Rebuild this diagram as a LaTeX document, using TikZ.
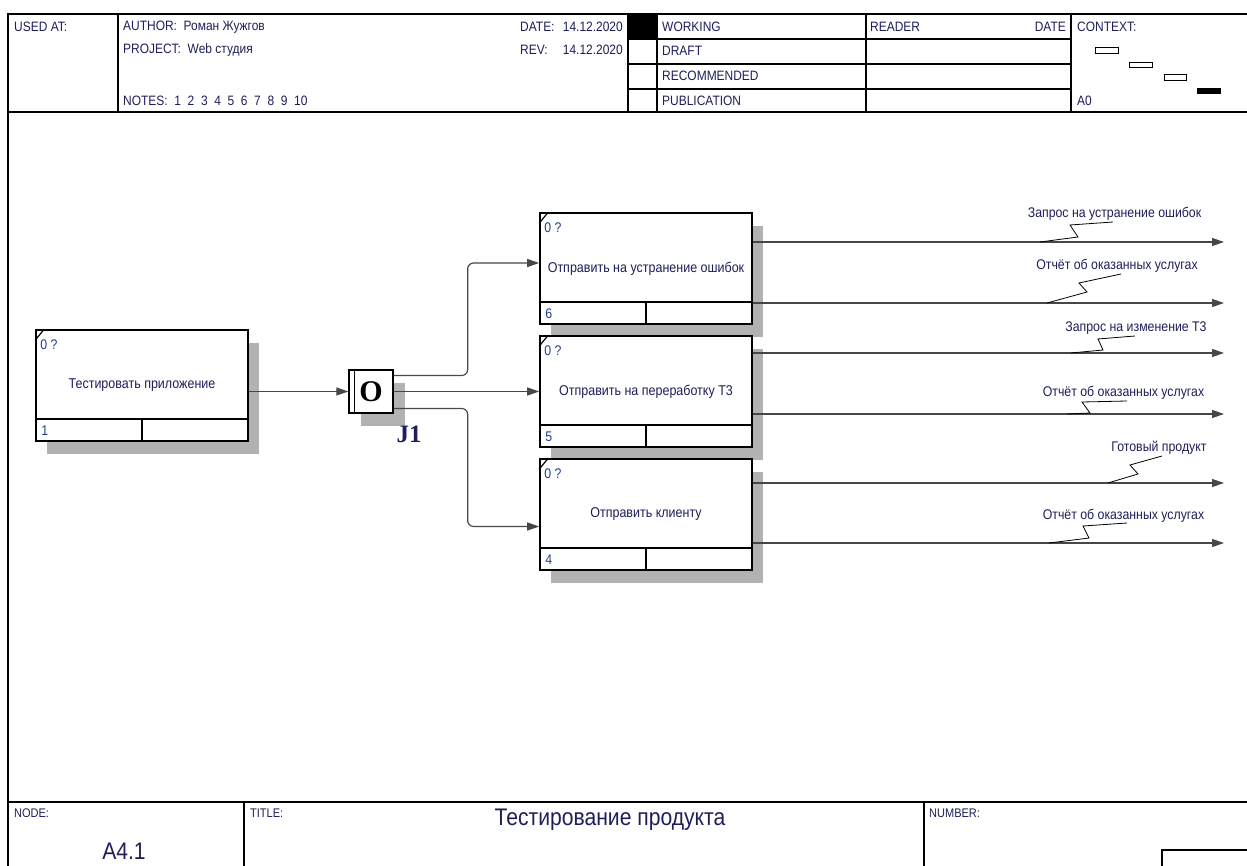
\documentclass[tikz,border=0pt]{standalone}
\usepackage{fontspec}
\setmainfont{Liberation Sans}[FakeStretch=0.88]
\newfontfamily\jfont{Liberation Serif}
\usepackage{tikz}
\usetikzlibrary{arrows.meta,positioning,calc,shadows}
\definecolor{idefnavy}{HTML}{1E1E5A}
\definecolor{idefblue}{HTML}{1F3F8F}
\definecolor{linegray}{HTML}{474747}

\begin{document}
\begin{tikzpicture}[
  x=1pt, y=-1pt,
  frame/.style={line width=1.1pt},
  txt/.style={anchor=west, inner sep=0pt, text=idefnavy, font=\fontsize{13.6}{15}\selectfont},
  func/.style={
    draw, line width=1.6pt, fill=white,
    minimum width=212pt, minimum height=111pt,
    text=idefnavy, font=\fontsize{14.2}{16}\selectfont,
    general shadow={fill=gray!60, shadow xshift=11pt, shadow yshift=-13pt}
  },
  junc/.style={
    draw, line width=1.3pt, fill=white, inner sep=0pt,
    minimum width=44pt, minimum height=43pt,
    font=\jfont\bfseries\fontsize{30}{30}\selectfont,
    general shadow={fill=gray!60, shadow xshift=12pt, shadow yshift=-13pt}
  },
  lbl/.style={inner sep=0pt, text=idefnavy, font=\fontsize{14}{16}\selectfont},
  arr/.style={-{Triangle[length=12pt,width=8pt]}, line width=1.2pt, draw=linegray},
  squig/.style={line width=0.8pt}
]
\useasboundingbox (0,0) rectangle (1247,866);

% frame
\draw[frame] (8,866) -- (8,14) -- (1247,14);
\draw[frame] (8,112) -- (1247,112);
\draw[frame] (118,14) -- (118,112);
\draw[frame] (628,14) -- (628,112);
\draw[frame] (657,14) -- (657,112);
\draw[frame] (866,14) -- (866,112);
\draw[frame] (1071,14) -- (1071,112);
\draw[frame] (628,39) -- (1071,39);
\draw[frame] (628,64) -- (1071,64);
\draw[frame] (628,89) -- (1071,89);
\fill (628,14) rectangle (657,39);

\node[txt] at (14,27) {USED AT:};
\node[txt] at (123,27) {AUTHOR:\ \ Роман Жужгов};
\node[txt] at (123,50) {PROJECT:\ \ Web студия};
\node[txt] at (123,101) {NOTES:\ \ 1\ \ 2\ \ 3\ \ 4\ \ 5\ \ 6\ \ 7\ \ 8\ \ 9\ \ 10};
\node[txt] at (520,27) {DATE:};
\node[txt, anchor=east] at (623,27) {14.12.2020};
\node[txt] at (520,50) {REV:};
\node[txt, anchor=east] at (623,50) {14.12.2020};
\node[txt] at (662,27) {WORKING};
\node[txt] at (662,51) {DRAFT};
\node[txt] at (662,76) {RECOMMENDED};
\node[txt] at (662,101) {PUBLICATION};
\node[txt] at (870,27) {READER};
\node[txt, anchor=east] at (1066,27) {DATE};
\node[txt] at (1077,27) {CONTEXT:};
\node[txt] at (1077,101) {A0};
\draw[line width=0.8pt] (1095,47) rectangle (1118,53);
\draw[line width=0.8pt] (1129,62) rectangle (1152,67);
\draw[line width=0.8pt] (1164,74) rectangle (1186,80);
\fill (1197,88) rectangle (1221,94);

\draw[frame] (8,802) -- (1247,802);
\draw[frame] (244,802) -- (244,866);
\draw[frame] (924,802) -- (924,866);
\draw[frame] (1162,866) -- (1162,850) -- (1247,850);
\node[txt, font=\fontsize{12.5}{14}\selectfont] at (14,813) {NODE:};
\node[txt, font=\fontsize{12.5}{14}\selectfont] at (250,813) {TITLE:};
\node[txt, font=\fontsize{12.5}{14}\selectfont] at (929,813) {NUMBER:};
\node[lbl, font=\fontsize{24}{26}\selectfont] (nodeid) at (124,851) {A4.1};
\node[lbl, font=\fontsize{24}{26}\selectfont] (title) at (610,820) {Тестирование продукта};

% activities
\node[func] (f1) at (142,385.5) {Тестировать приложение};
\node[func] (f6) at (646,268.5) {Отправить на устранение ошибок};
\node[func] (f5) at (646,391.5) {Отправить на переработку Т3};
\node[func] (f4) at (646,514.5) {Отправить клиенту};

\foreach \f/\n in {f1/1, f6/6, f5/5, f4/4} {
  \draw[line width=1.6pt] ([yshift=23pt]\f.south west) -- ([yshift=23pt]\f.south east);
  \draw[line width=1.6pt] ([yshift=23pt]\f.south) -- (\f.south);
  \draw[line width=1.2pt] ([yshift=-11pt]\f.north west) -- ([xshift=9pt]\f.north west);
  \node[lbl, anchor=west, text=idefblue] at ([xshift=5pt,yshift=-15pt]\f.north west) {0 ?};
  \node[lbl, anchor=west, text=idefblue] at ([xshift=6pt,yshift=11pt]\f.south west) {\n};
}

% junction
\node[junc] (j1) at (371,391.5) {O};
\draw[line width=1pt] ([xshift=6pt]j1.north west) -- ([xshift=6pt]j1.south west);
\node[lbl, font=\jfont\bfseries\fontsize{25}{27}\selectfont] (j1lbl) at (409,434) {J1};

\draw[arr] (f1.east |- j1.west) -- (j1.west);
\draw[arr, rounded corners=6pt] ([yshift=16pt]j1.east) -- ++(74,0) |- ([yshift=5.5pt]f6.west);
\draw[arr] (j1.east) -- (f5.west);
\draw[arr, rounded corners=6pt] ([yshift=-17pt]j1.east) -- ++(74,0) |- ([yshift=-12pt]f4.west);

% outputs
\coordinate (o1) at (1224,242);
\coordinate (o2) at (1224,303);
\coordinate (o3) at (1224,353);
\coordinate (o4) at (1224,414);
\coordinate (o5) at (1224,483);
\coordinate (o6) at (1224,543);
\draw[arr] (f6.east |- o1) -- (o1);
\draw[arr] (f6.east |- o2) -- (o2);
\draw[arr] (f5.east |- o3) -- (o3);
\draw[arr] (f5.east |- o4) -- (o4);
\draw[arr] (f4.east |- o5) -- (o5);
\draw[arr] (f4.east |- o6) -- (o6);

\node[lbl] (l1) at (1114.5,214) {Запрос на устранение ошибок};
\node[lbl] (l2) at (1117,266) {Отчёт об оказанных услугах};
\node[lbl] (l3) at (1136,328) {Запрос на изменение Т3};
\node[lbl] (l4) at (1123.5,393) {Отчёт об оказанных услугах};
\node[lbl] (l5) at (1159,448) {Готовый продукт};
\node[lbl] (l6) at (1123.5,516) {Отчёт об оказанных услугах};

\draw[squig] (1040,242) -- (1078,237) -- (1070,225) -- (1113,222);
\draw[squig] (1047,303) -- (1087,292) -- (1079,283) -- (1121,274);
\draw[squig] (1071,353) -- (1103,350) -- (1098,339) -- (1135,336);
\draw[squig] (1067,414) -- (1090,413) -- (1082,402) -- (1127,401);
\draw[squig] (1108,483) -- (1138,474) -- (1130,465) -- (1162,456);
\draw[squig] (1049,543) -- (1089,538) -- (1083,526) -- (1127,523);

\end{tikzpicture}
\end{document}
